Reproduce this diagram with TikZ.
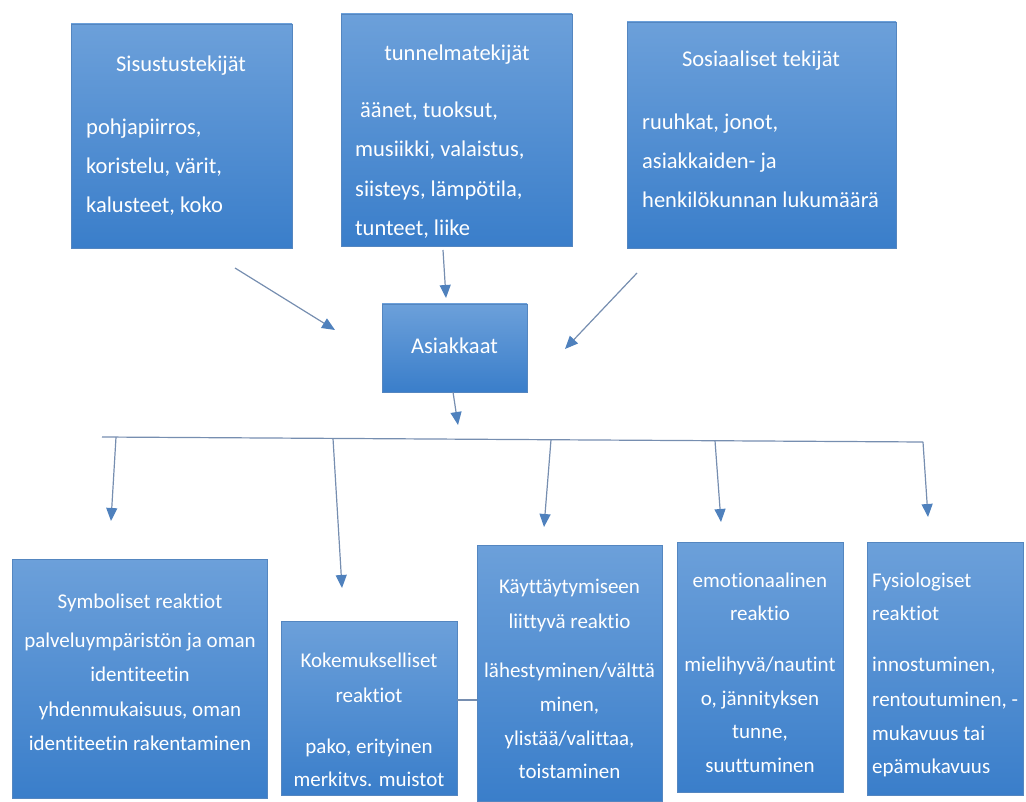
\documentclass[tikz,border=0pt]{standalone}
\usepackage{fontspec}
\setmainfont{Carlito}[Ligatures=NoCommon]
\usetikzlibrary{arrows.meta}

\definecolor{boxtop}{RGB}{108,160,218}
\definecolor{boxbot}{RGB}{58,126,202}
\definecolor{boxedge}{RGB}{84,134,192}
\definecolor{linecol}{RGB}{118,142,176}
\definecolor{headcol}{RGB}{79,129,189}

\tikzset{
  panel/.style={rectangle, inner sep=0pt, outer sep=0pt,
    top color=boxtop, bottom color=boxbot, draw=boxedge, line width=0.4pt},
  bigtxt/.style={text=white, font=\fontsize{22.5}{27}\selectfont, inner sep=0pt},
  smalltxt/.style={text=white, font=\fontsize{21}{25}\selectfont, inner sep=0pt},
  flow/.style={draw=linecol, line width=1.2pt,
    -{Triangle[length=13pt,width=11pt,color=headcol,fill=headcol]}},
  plain/.style={draw=linecol, line width=1.2pt},
}

\begin{document}
\begin{tikzpicture}[x=1pt,y=-1pt]
\useasboundingbox (0,0) rectangle (1026,802);

% ---------- upper row: factors ----------
\node[panel, minimum width=221pt, minimum height=224pt] (sis) at (181.5,136) {};
\node[bigtxt, anchor=base] (sis-t) at (181,72) {Sisustustekijät};
\foreach \y/\t [count=\i] in {135/{pohjapiirros,},174/{koristelu, värit,},213/{kalusteet, koko}}
  \node[bigtxt, anchor=base west] (sis-\i) at (86,\y) {\t};

\node[panel, minimum width=231pt, minimum height=232pt] (tun) at (456.5,130) {};
\node[bigtxt, anchor=base] (tun-t) at (457,61) {tunnelmatekijät};
\node[bigtxt, anchor=base west] (tun-1) at (360,118) {äänet, tuoksut,};
\foreach \y/\t [count=\i from 2] in {157/{musiikki, valaistus,},197/{siisteys, lämpötila,},236/{tunteet, liike}}
  \node[bigtxt, anchor=base west] (tun-\i) at (355,\y) {\t};

\node[panel, minimum width=269pt, minimum height=226pt] (sos) at (761.5,135) {};
\node[bigtxt, anchor=base] (sos-t) at (761,67) {Sosiaaliset tekijät};
\foreach \y/\t [count=\i] in {130/{ruuhkat, jonot,},169/{asiakkaiden- ja},208/{henkilökunnan lukumäärä}}
  \node[bigtxt, anchor=base west] (sos-\i) at (642,\y) {\t};

% ---------- customers ----------
\node[panel, minimum width=145pt, minimum height=88pt] (asi) at (454.5,348) {};
\node[bigtxt] (asi-t) at (454.5,346) {Asiakkaat};

\coordinate (inA) at (235,268);  \coordinate (tipA) at (335,330);
\coordinate (inB) at (443,250);  \coordinate (tipB) at (446,298);
\coordinate (inC) at (637,273);  \coordinate (tipC) at (565,349);
\draw[flow] (inA) -- (tipA);
\draw[flow] (inB) -- (tipB);
\draw[flow] (inC) -- (tipC);

\coordinate (asiTip) at (458,425);
\draw[flow] ([xshift=-1.5pt]asi.south) -- (asiTip);

% ---------- distribution bus ----------
\coordinate (busL) at (102,437);
\coordinate (busR) at (923,442);
\draw[plain] (busL) -- (busR);
\coordinate (b1) at (116,437.1);  \coordinate (d1) at (111,521);
\coordinate (b2) at (333,438.4);  \coordinate (d2) at (342,588);
\coordinate (b3) at (551,439.7);  \coordinate (d3) at (544,527);
\coordinate (b4) at (715,440.7);  \coordinate (d4) at (721,522);
\coordinate (d5) at (928,517);
\draw[flow] (b1) -- (d1);
\draw[flow] (b2) -- (d2);
\draw[flow] (b3) -- (d3);
\draw[flow] (b4) -- (d4);
\draw[flow] (busR) -- (d5);

% ---------- lower row: reactions ----------
\node[panel, minimum width=255pt, minimum height=239pt] (sym) at (139.5,678.5) {};
\foreach \y/\t [count=\i] in {608/{Symboliset reaktiot},647/{palveluympäristön ja oman},681/{identiteetin},716/{yhdenmukaisuus, oman},750/{identiteetin rakentaminen}}
  \node[smalltxt, anchor=base] (sym-\i) at (140,\y) {\t};

\node[panel, minimum width=176pt, minimum height=174pt] (kok) at (369,708) {};
\foreach \y/\t [count=\i] in {667/{Kokemukselliset},702/{reaktiot},753/{pako, erityinen},786/{merkitvs. muistot}}
  \node[smalltxt, anchor=base] (kok-\i) at (369,\y) {\t};

\node[panel, minimum width=185pt, minimum height=256pt] (kay) at (569.5,673) {};
\foreach \y/\t [count=\i] in {593/{Käyttäytymiseen},628/{liittyvä reaktio},677/{lähestyminen/välttä},711/{minen,},745/{ylistää/valittaa,},778/{toistaminen}}
  \node[smalltxt, anchor=base] (kay-\i) at (569.5,\y) {\t};

\coordinate (kk) at (467,700);
\draw[plain] (kok.east |- kk) -- (kay.west |- kk);

\node[panel, minimum width=166pt, minimum height=250pt] (emo) at (760,667) {};
\foreach \y/\t [count=\i] in {587/{emotionaalinen},620/{reaktio},671/{mielihyvä/nautint},705/{o, jännityksen},738/{tunne,},772/{suuttuminen}}
  \node[smalltxt, anchor=base] (emo-\i) at (760,\y) {\t};

\node[panel, minimum width=156pt, minimum height=253pt] (fys) at (945,668.5) {};
\foreach \y/\t [count=\i] in {587/{Fysiologiset},620/{reaktiot},671/{innostuminen,},706/{rentoutuminen, -},740/{mukavuus tai},773/{epämukavuus}}
  \node[smalltxt, anchor=base west] (fys-\i) at (872,\y) {\t};

\end{tikzpicture}
\end{document}
